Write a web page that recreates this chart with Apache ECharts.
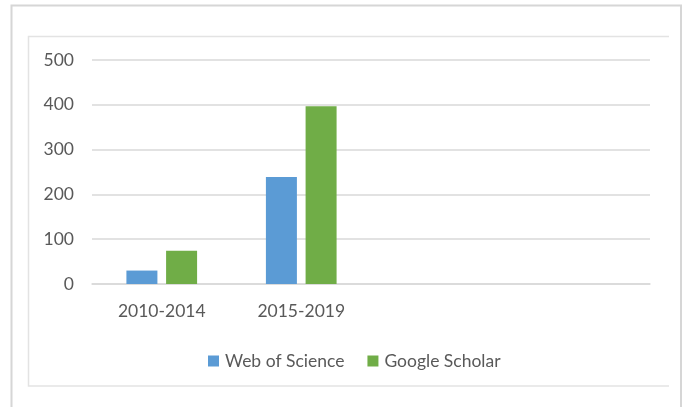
<!DOCTYPE html>
<html>
<head>
<meta charset="utf-8">
<script src="https://cdn.jsdelivr.net/npm/echarts@6/dist/echarts.min.js"></script>
<style>
html,body{margin:0;padding:0;background:#fff;}
#chart{width:685px;height:407px;}
</style>
</head>
<body>
<div id="chart"></div>
<script>
var categories = ['2010-2014', '2015-2019', '', ''];
var webOfScience = [30, 239, null, null];
var googleScholar = [74, 397, null, null];
var yTicks = [0, 100, 200, 300, 400, 500];

var chart = echarts.init(document.getElementById('chart'));
var font = 'Lato, "Open Sans", sans-serif';
chart.setOption({
  backgroundColor: '#ffffff',
  animation: false,
  graphic: [
    { type: 'polyline', shape: { points: [[11.5, 420], [11.5, 5.5], [681, 5.5], [681, 420]] },
      style: { stroke: '#d6d6d6', lineWidth: 2, fill: null } },
    { type: 'polyline', shape: { points: [[669, 36.5], [28.5, 36.5], [28.5, 386], [669, 386]] },
      style: { stroke: '#e3e3e3', lineWidth: 1.5, fill: null } }
  ],
  grid: { left: 92, right: 35, top: 60, bottom: 123, containLabel: false },
  legend: {
    left: 203, top: 347,
    itemWidth: 11, itemHeight: 11, itemGap: 23,
    icon: 'rect',
    textStyle: { color: '#595959', fontSize: 17.5, fontFamily: font, padding: [0, 0, 0, 1] },
    data: ['Web of Science', 'Google Scholar']
  },
  xAxis: {
    type: 'category',
    data: categories,
    axisLine: { show: true, lineStyle: { color: '#d9d9d9', width: 1.5 } },
    axisTick: { show: false },
    axisLabel: { color: '#595959', fontSize: 17.5, fontFamily: font, margin: 18, interval: 0 }
  },
  yAxis: {
    type: 'value',
    min: yTicks[0], max: yTicks[yTicks.length - 1], interval: 100,
    axisLine: { show: false },
    axisTick: { show: false },
    splitLine: { lineStyle: { color: '#d9d9d9', width: 1.5 } },
    axisLabel: { color: '#595959', fontSize: 17.5, fontFamily: font, margin: 18 }
  },
  series: [
    { name: 'Web of Science', type: 'bar', data: webOfScience, barWidth: 31, barGap: '28%',
      itemStyle: { color: '#5b9bd5' } },
    { name: 'Google Scholar', type: 'bar', data: googleScholar, barWidth: 31, barGap: '28%',
      itemStyle: { color: '#70ad47' } }
  ]
});
</script>
</body>
</html>
